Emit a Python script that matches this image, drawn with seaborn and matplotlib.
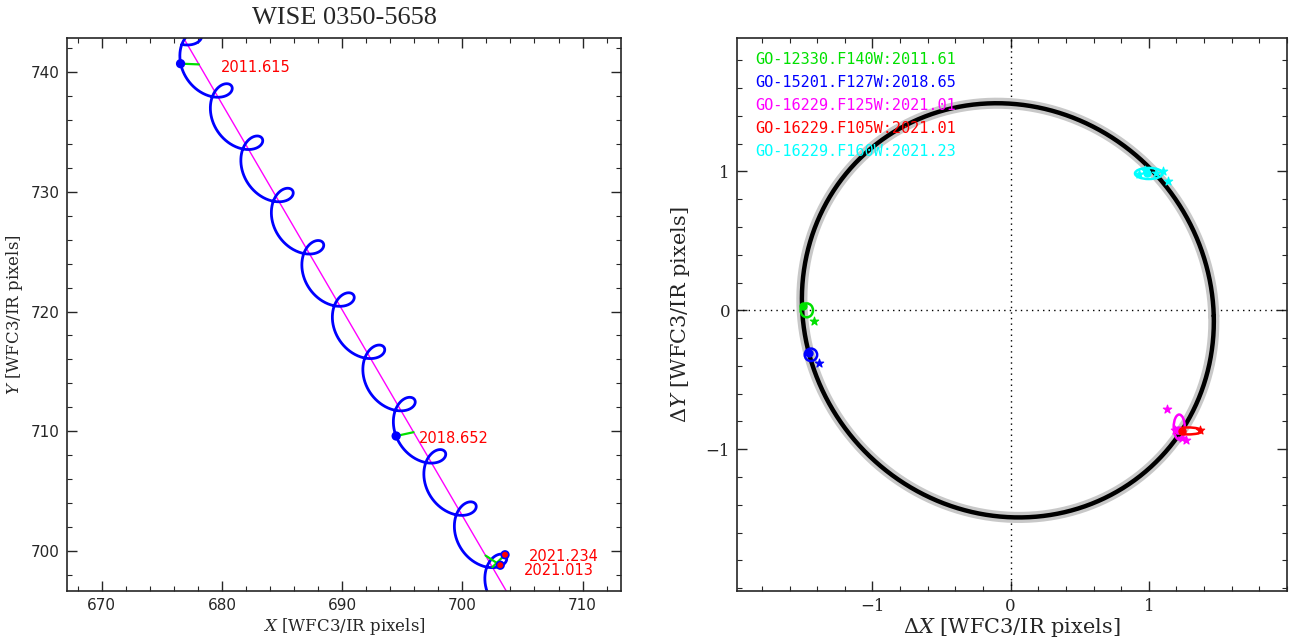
import numpy as np
import pandas as pd
import matplotlib
matplotlib.use("Agg")
import matplotlib.pyplot as plt
import seaborn as sns
from matplotlib.ticker import MultipleLocator, FixedLocator
from matplotlib.patches import Ellipse

# ---------------- data ----------------
title = "WISE 0350-5658"

# mean path (magenta line): reference point / epoch and proper motion (px/yr)
ref_epoch = 2011.615
ref_x, ref_y = 678.08, 740.60
mu_x, mu_y = 2.538, -4.357
# parallax ellipse (px): semi-axes, orientation (deg), phase offset (deg), centre offset
plx_a, plx_b = 1.53, 1.45
plx_rot_deg = -45.0
plx_phase_deg = -39.6
plx_cx, plx_cy = -0.02, 0.0
track_start, track_end = 2010.9, 2022.2

# observed epochs in left panel
obs_epochs = [2011.615, 2018.652, 2021.013, 2021.234]
obs_x = [676.55, 694.49, 703.15, 703.55]
obs_y = [740.66, 709.62, 698.85, 699.72]
obs_colors = ["blue", "blue", "red", "red"]

label_text = ["2011.615", "2018.652", "2021.234", "2021.013"]
label_x = [679.9, 696.4, 705.5, 705.1]
label_y = [740.3, 709.4, 699.55, 698.45]

# right panel legend
legend_text = ["GO-12330.F140W:2011.61", "GO-15201.F127W:2018.65",
               "GO-16229.F125W:2021.01", "GO-16229.F105W:2021.01",
               "GO-16229.F160W:2021.23"]
legend_colors = ["#00e000", "blue", "magenta", "red", "cyan"]

# residual clusters (ΔX, ΔY)
cl_cx = [-1.475, -1.445, 1.22, 1.285, 1.00]
cl_cy = [0.0, -0.32, -0.84, -0.868, 0.985]
cl_w = [0.09, 0.09, 0.08, 0.20, 0.20]
cl_h = [0.10, 0.09, 0.18, 0.05, 0.08]
star_dx = [[-1.42], [-1.39], [1.13, 1.24, 1.27, 1.19], [1.37], [0.93, 0.97, 1.10, 1.14, 1.05]]
star_dy = [[-0.08], [-0.38], [-0.71, -0.92, -0.93, -0.86], [-0.86], [0.98, 1.01, 1.00, 0.93, 0.99]]
dot_dx = [-1.50, -1.46, 1.21, 1.24, 0.99]
dot_dy = [0.03, -0.31, -0.86, -0.87, 0.99]


def plx_offset(theta):
    """Point on the (rotated) parallax ellipse at position angle parameter theta."""
    al = np.deg2rad(plx_rot_deg)
    psi = theta - al
    u, v = plx_a * np.cos(psi), plx_b * np.sin(psi)
    return (plx_cx + np.cos(al) * u - np.sin(al) * v,
            plx_cy + np.sin(al) * u + np.cos(al) * v)


# ---------------- style ----------------
sns.set_theme(style="ticks")
plt.rcParams["font.family"] = ["DejaVu Sans"]
plt.rcParams["mathtext.fontset"] = "dejavuserif"
for ax_ in ("xtick", "ytick"):
    plt.rcParams[f"{ax_}.direction"] = "in"
    plt.rcParams[f"{ax_}.major.size"] = 7
    plt.rcParams[f"{ax_}.minor.size"] = 3.5
    plt.rcParams[f"{ax_}.major.width"] = 1.0
    plt.rcParams[f"{ax_}.minor.width"] = 0.8
plt.rcParams["xtick.top"] = True
plt.rcParams["ytick.right"] = True

fig = plt.figure(figsize=(12.96, 6.42), dpi=100)
axL = fig.add_axes([67/1296, 51/642, 554/1296, 553/642])
axR = fig.add_axes([737/1296, 51/642, 550/1296, 553/642])

# ---------------- left panel ----------------
t = np.linspace(track_start, track_end, 4000)
line_x = ref_x + mu_x * (t - ref_epoch)
line_y = ref_y + mu_y * (t - ref_epoch)
theta = 2 * np.pi * t + np.deg2rad(plx_phase_deg)
ox_, oy_ = plx_offset(theta)
trk_x = line_x + ox_
trk_y = line_y + oy_

df_line = pd.DataFrame({"x": line_x, "y": line_y})
df_trk = pd.DataFrame({"x": trk_x, "y": trk_y})
sns.lineplot(data=df_line, x="x", y="y", sort=False, estimator=None, color="magenta", lw=1.0, ax=axL)
sns.lineplot(data=df_trk, x="x", y="y", sort=False, estimator=None, color="blue", lw=2.0, ax=axL)

for ep, ox, oy in zip(obs_epochs, obs_x, obs_y):
    lx = ref_x + mu_x * (ep - ref_epoch)
    ly = ref_y + mu_y * (ep - ref_epoch)
    axL.plot([ox, lx], [oy, ly], color="#00e000", lw=1.6, zorder=4)
df_obs = pd.DataFrame({"x": obs_x, "y": obs_y, "c": obs_colors})
sns.scatterplot(data=df_obs, x="x", y="y", hue="c", palette={"blue": "blue", "red": "red"},
                s=30, edgecolor="blue", linewidth=1.2, legend=False, ax=axL, zorder=5)

for txt, lx, ly in zip(label_text, label_x, label_y):
    axL.text(lx, ly, txt, color="red", fontsize=10.5, ha="left", va="center")

axL.set_xlim(667.1, 713.2)
axL.set_ylim(696.7, 742.8)
axL.xaxis.set_major_locator(MultipleLocator(10))
axL.xaxis.set_minor_locator(MultipleLocator(2))
axL.yaxis.set_major_locator(MultipleLocator(10))
axL.yaxis.set_minor_locator(MultipleLocator(2))
axL.tick_params(labelsize=11, pad=5)
axL.set_xlabel(r"$X$ [WFC3/IR pixels]", fontsize=12, family="DejaVu Serif", labelpad=2)
axL.set_ylabel(r"$Y$ [WFC3/IR pixels]", fontsize=12, family="DejaVu Serif", labelpad=4)
axL.set_title(title, fontsize=19, family="Liberation Serif", pad=10)
for s in axL.spines.values():
    s.set_linewidth(1.2)

# ---------------- right panel ----------------
phi = np.linspace(0, 2 * np.pi, 720)
cx_, cy_ = plx_offset(phi)
df_circ = pd.DataFrame({"x": cx_, "y": cy_})
axR.axvline(0, color="black", ls=(0, (1, 3)), lw=1.0, zorder=1)
axR.axhline(0, color="black", ls=(0, (1, 3)), lw=1.0, zorder=1)
sns.lineplot(data=df_circ, x="x", y="y", sort=False, estimator=None, color="#c8c8c8", lw=8, ax=axR)
sns.lineplot(data=df_circ, x="x", y="y", sort=False, estimator=None, color="black", lw=3.2, ax=axR)

for i, c in enumerate(legend_colors):
    axR.add_patch(Ellipse((cl_cx[i], cl_cy[i]), cl_w[i], cl_h[i], fill=False, ec=c, lw=1.8, zorder=4))
    df_s = pd.DataFrame({"x": star_dx[i], "y": star_dy[i]})
    sns.scatterplot(data=df_s, x="x", y="y", marker="*", s=40, color=c, edgecolor=c,
                    linewidth=0.8, legend=False, ax=axR, zorder=5)
    axR.plot([dot_dx[i]], [dot_dy[i]], "o", color=c, ms=5, zorder=5)

leg_y0, leg_dy = 1.806, 0.1655
for i, (txt, c) in enumerate(zip(legend_text, legend_colors)):
    axR.text(-1.85, leg_y0 - i * leg_dy, txt, color=c, fontsize=11,
             family="DejaVu Sans Mono", ha="left", va="center")

axR.set_xlim(-1.98, 2.0)
axR.set_ylim(-2.02, 1.96)
axR.xaxis.set_major_locator(FixedLocator([-1, 0, 1]))
axR.xaxis.set_minor_locator(MultipleLocator(0.2))
axR.yaxis.set_major_locator(FixedLocator([-1, 0, 1]))
axR.yaxis.set_minor_locator(MultipleLocator(0.2))
axR.set_xticklabels(["\u22121", "0", "1"], family="DejaVu Serif")
axR.set_yticklabels(["\u22121", "0", "1"], family="DejaVu Serif")
axR.tick_params(labelsize=12, pad=5)
axR.set_xlabel(r"$\Delta X$ [WFC3/IR pixels]", fontsize=15, family="DejaVu Serif", labelpad=1)
axR.set_ylabel(r"$\Delta Y$ [WFC3/IR pixels]", fontsize=15, family="DejaVu Serif", labelpad=10)
for s in axR.spines.values():
    s.set_linewidth(1.2)

fig.savefig("out.png", dpi=100)
